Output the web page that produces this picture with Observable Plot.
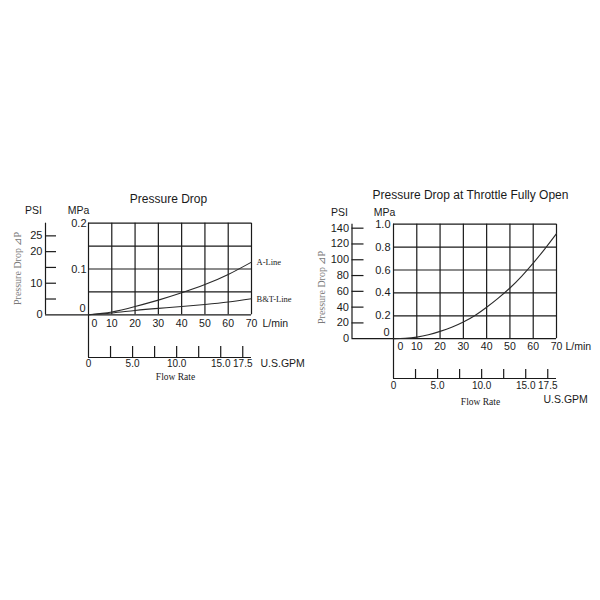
<!DOCTYPE html>
<html>
<head>
<meta charset="utf-8">
<script src="https://cdn.jsdelivr.net/npm/d3@7"></script>
<script src="https://cdn.jsdelivr.net/npm/@observablehq/plot@0.6"></script>
<style>
  html, body { margin: 0; padding: 0; background: #fff; }
  #wrap { position: relative; width: 600px; height: 600px; overflow: hidden; }
  #wrap svg { position: absolute; top: 0; overflow: visible; }
</style>
</head>
<body>
<div id="wrap"></div>
<script>
// ---------- data ----------
const PSI2MPA = 0.00689476;
const GPM2L = 3.78541;

const flowTicks = [0, 10, 20, 30, 40, 50, 60, 70];      // L/min
const gpmTicks = [2.5, 5, 7.5, 10, 12.5, 15, 17.5];       // U.S.GPM tick marks
const gpmLabels = [0, 5, 10, 15, 17.5];                   // U.S.GPM labels

// Left chart: Pressure Drop
const leftFlow = [0, 10, 20, 30, 40, 50, 60, 70];
const aLine = [0, 0.006, 0.018, 0.032, 0.048, 0.066, 0.088, 0.115];     // MPa
const btLine = [0, 0.004, 0.0095, 0.014, 0.018, 0.0226, 0.028, 0.035];  // MPa
const leftMpaGrid = [0, 0.05, 0.1, 0.15, 0.2];
const leftMpaLabels = [0, 0.1, 0.2];
const leftPsiTicks = [5, 10, 15, 20, 25];
const leftPsiLabels = [0, 10, 20, 25];

// Right chart: Pressure Drop at Throttle Fully Open
const rightFlow = [0, 5, 10, 15, 20, 25, 30, 35, 40, 45, 50, 55, 60, 65, 70];
const throttle = [0, 0.004, 0.014, 0.034, 0.064, 0.100, 0.146, 0.203, 0.275, 0.355, 0.443, 0.545, 0.660, 0.785, 0.918];
const rightMpaGrid = [0, 0.2, 0.4, 0.6, 0.8, 1.0];
const rightMpaLabels = [0, 0.2, 0.4, 0.6, 0.8, 1.0];
const rightPsiTicks = [20, 40, 60, 80, 100, 120, 140];
const rightPsiLabels = [0, 20, 40, 60, 80, 100, 120, 140];

// ---------- drawing ----------
const INK = "#1a1a1a";
const SANS = "'Liberation Sans', Arial, sans-serif";
const SERIF = "'Liberation Serif', 'Times New Roman', serif";

function panel(c) {
  const kx = (c.gx1 - c.gx0) / 70;
  const ky = (c.gy0 - c.gy1) / c.ymax;
  const px2x = p => (p - c.gx0) / kx;
  const px2y = p => (c.gy0 - p) / ky;
  const psiX = px2x(c.psiAxisPx);
  const gpmY = px2y(c.gpmAxisPx);
  const lineStyle = {stroke: INK, strokeWidth: 1.2};
  const sans = {fontFamily: SANS, fill: INK};
  const serif = {fontFamily: SERIF, fill: INK};

  const marks = [
    // grid
    Plot.ruleX(flowTicks, {x: d => d, y1: 0, y2: c.ymax, ...lineStyle}),
    Plot.ruleY(c.mpaGrid, {y: d => d, x1: 0, x2: 70, ...lineStyle}),
    // PSI axis
    Plot.ruleX([psiX], {x: d => d, y1: 0, y2: c.ymax, ...lineStyle}),
    Plot.ruleY([0], {y: d => d, x1: psiX, x2: 0, ...lineStyle}),
    Plot.ruleY(c.psiTicks, {y: d => d * PSI2MPA, x1: psiX, x2: psiX + c.psiTickLen / kx, ...lineStyle}),
    Plot.text(c.psiLabels, {x: psiX, y: d => d * PSI2MPA, text: d => String(d), textAnchor: "end", dx: -3, fontSize: 11, ...sans}),
    // MPa labels
    Plot.text(c.mpaLabels.filter(d => d !== 0), {x: 0, y: d => d, text: d => d.toFixed(1), textAnchor: "end", dx: c.mpaDx, fontSize: 11, ...sans}),
    Plot.text(["0"], {x: 0, y: 0, textAnchor: "end", dx: c.mpaDx - 1, dy: -6, fontSize: 11, ...sans}),
    // unit labels
    Plot.text(["PSI"], {x: px2x(c.psiLabelX), y: c.ymax, dy: c.unitDy, fontSize: 10.5, ...sans}),
    Plot.text(["MPa"], {x: px2x(c.mpaLabelX), y: c.ymax, dy: c.unitDy, fontSize: 10.5, ...sans}),
    // L/min labels
    Plot.text(flowTicks.filter(d => d !== 0), {x: d => d, y: 0, dy: c.lminDy, text: d => String(d), fontSize: 10.5, ...sans}),
    Plot.text(["0"], {x: 0, y: 0, dx: c.zeroDx, dy: c.lminDy, fontSize: 10.5, ...sans}),
    Plot.text(["L/min"], {x: 70, y: 0, dx: c.lminUnitDx, dy: c.lminDy, textAnchor: "start", fontSize: 10.5, ...sans}),
    // GPM axis
    Plot.ruleX([0], {x: d => d, y1: 0, y2: gpmY, ...lineStyle}),
    Plot.ruleY([gpmY], {y: d => d, x1: 0, x2: 70, ...lineStyle}),
    Plot.ruleX(gpmTicks, {x: d => d * GPM2L, y1: gpmY, y2: gpmY + c.gpmTickLen / ky, ...lineStyle}),
    Plot.text(gpmLabels, {x: d => d * GPM2L, y: gpmY, dy: c.gpmLabelDy, text: d => d === 0 ? "0" : d.toFixed(1), fontSize: 10, ...sans}),
    Plot.text(["U.S.GPM"], {x: px2x(c.gpmUnitX), y: px2y(c.gpmUnitY), textAnchor: "start", fontSize: 10.5, ...sans}),
    Plot.text(["Flow Rate"], {x: px2x(c.flowRateX), y: px2y(c.flowRateY), fontSize: 9.5, ...serif}),
    // y title
    Plot.text(["Pressure Drop \u22BFP"], {x: px2x(c.yTitleX), y: px2y(c.yTitleY), rotate: -90, fontSize: 10, fontFamily: SERIF, fill: "#7a7a7a"}),
    // title
    Plot.text([c.title], {x: px2x(c.titleX), y: px2y(c.titleY), fontSize: 12, ...sans}),
    ...c.curves
  ];

  return Plot.plot({
    width: 300,
    height: 600,
    margin: 0,
    x: {domain: [0, 70], range: [c.gx0, c.gx1], axis: null},
    y: {domain: [0, c.ymax], range: [c.gy0, c.gy1], axis: null},
    style: {background: "transparent", overflow: "visible"},
    marks
  });
}

const leftCurves = [
  Plot.line(leftFlow.map((f, i) => ({f, v: aLine[i]})), {x: "f", y: "v", curve: "natural", stroke: "#2a2a2a", strokeWidth: 1.1}),
  Plot.line(leftFlow.map((f, i) => ({f, v: btLine[i]})), {x: "f", y: "v", curve: "natural", stroke: "#2a2a2a", strokeWidth: 1.1}),
  Plot.text([{f: 70, v: aLine[aLine.length - 1], t: "A-Line"}], {x: "f", y: "v", text: "t", dx: 5, textAnchor: "start", fontSize: 8.5, fontFamily: SERIF, fill: INK}),
  Plot.text([{f: 70, v: btLine[btLine.length - 1], t: "B&T-Line"}], {x: "f", y: "v", text: "t", dx: 5, textAnchor: "start", fontSize: 8.5, fontFamily: SERIF, fill: INK})
];

const rightCurves = [
  Plot.line(rightFlow.map((f, i) => ({f, v: throttle[i]})), {x: "f", y: "v", curve: "natural", stroke: "#2a2a2a", strokeWidth: 1.1})
];

const left = panel({
  title: "Pressure Drop", titleX: 168, titleY: 199,
  gx0: 88, gx1: 251, gy0: 314.3, gy1: 222.7, ymax: 0.2,
  mpaGrid: leftMpaGrid, mpaLabels: leftMpaLabels, mpaDx: -2,
  psiTicks: leftPsiTicks, psiLabels: leftPsiLabels, psiAxisPx: 45, psiTickLen: 11,
  psiLabelX: 33, mpaLabelX: 78, unitDy: -12.5,
  lminDy: 8.5, zeroDx: 6, lminUnitDx: 11,
  gpmAxisPx: 357, gpmTickLen: 11, gpmLabelDy: 6.5,
  gpmUnitX: 260, gpmUnitY: 363.5,
  flowRateX: 175, flowRateY: 376,
  yTitleX: 17, yTitleY: 268,
  curves: leftCurves
});

const right = panel({
  title: "Pressure Drop at Throttle Fully Open", titleX: 170, titleY: 195,
  gx0: 93, gx1: 256, gy0: 338.2, gy1: 223.7, ymax: 1.0,
  mpaGrid: rightMpaGrid, mpaLabels: rightMpaLabels, mpaDx: -3,
  psiTicks: rightPsiTicks, psiLabels: rightPsiLabels, psiAxisPx: 51.5, psiTickLen: 12,
  psiLabelX: 39, mpaLabelX: 84, unitDy: -12,
  lminDy: 7.5, zeroDx: 7, lminUnitDx: 9,
  gpmAxisPx: 378, gpmTickLen: 9, gpmLabelDy: 7,
  gpmUnitX: 243, gpmUnitY: 399.5,
  flowRateX: 180, flowRateY: 401,
  yTitleX: 21, yTitleY: 287,
  curves: rightCurves
});

left.style.left = "0px";
right.style.left = "300px";
document.getElementById("wrap").append(left, right);
</script>
</body>
</html>
